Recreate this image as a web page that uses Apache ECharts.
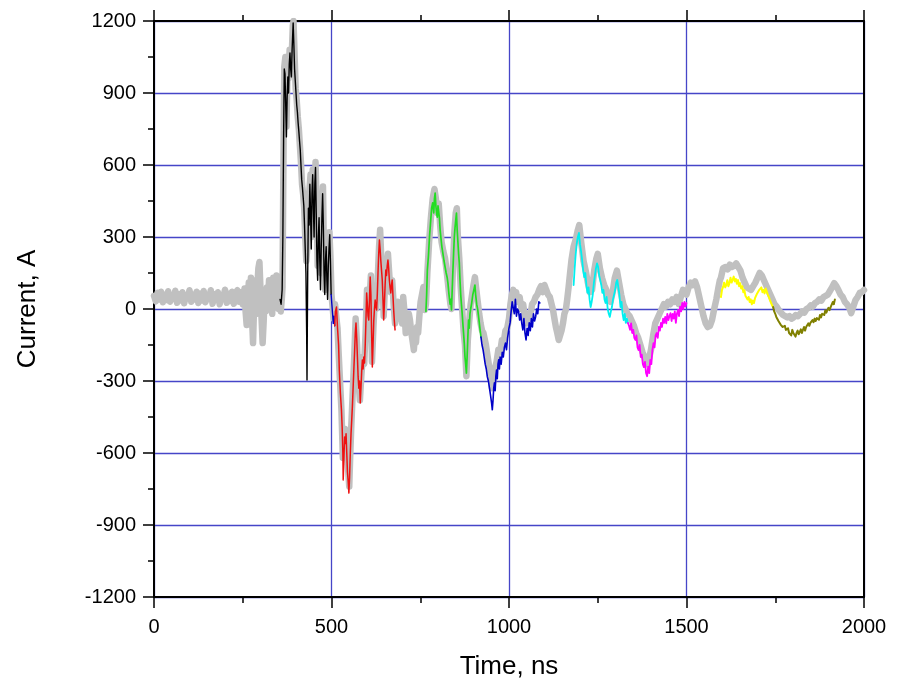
<!DOCTYPE html>
<html>
<head>
<meta charset="utf-8">
<script src="https://cdn.jsdelivr.net/npm/echarts@6/dist/echarts.min.js"></script>
<style>
html,body{margin:0;padding:0;background:#fff;}
#chart{width:900px;height:685px;}
</style>
</head>
<body>
<div id="chart"></div>
<script>
// ---- data: [time (ns), current (A)] ----
const grayTrace = [
[0,55],[5,32],[10,68],[15,40],[20,72],[25,28],[30,60],[35,38],[40,74],[45,30],[50,58],[55,42],[60,76],[65,26],[70,62],[75,36],[80,70],[85,24],[90,58],[95,44],[100,78],[105,30],[110,60],[115,40],[120,72],[125,25],[130,64],[135,36],[140,75],[145,28],[150,56],[155,44],[160,78],[165,22],[170,62],[175,38],[180,70],[185,20],[190,58],[195,46],[200,80],[205,26],[210,64],[215,34],[220,72],[225,22],[230,66],[235,78],[240,30],[245,70],[250,20],[255,85],[258,-10],[261,-67],[264,40],[267,110],[270,0],[273,130],[276,-30],[279,-142],[282,20],[285,120],[288,-20],[291,90],[294,170],[297,196],[300,80],[303,-40],[306,-142],[309,-50],[312,60],[315,-10],[318,90],[321,20],[324,120],[327,0],[330,60],[333,-20],[336,130],[339,20],[342,90],[345,140],[348,40],[351,0],[354,60],[357,-10],[360,40],
[362,90],[364,500],[367,1010],[370,1050],[373,760],[376,990],[379,960],[382,1080],[385,1010],[388,1060],[391,1180],[393,1200],[396,1060],[399,920],[402,870],[405,800],[408,750],[411,680],[414,610],[417,520],[420,480],[423,420],[426,300],[429,200],[432,260],[435,430],[438,500],[441,560],[444,300],[447,580],[450,430],[453,500],[455,612],[458,450],[461,180],[464,300],[467,400],[470,150],[473,380],[476,510],[479,200],[482,80],[485,270],[488,100],[491,200],[494,320],[497,220],[500,60],[503,10],[506,-40],
[510,20],[514,-40],[517,-80],[520,-180],[524,-300],[528,-420],[532,-620],[535,-560],[538,-500],[542,-580],[546,-650],[550,-740],[553,-600],[556,-480],[560,-340],[564,-200],[568,-40],[572,-150],[576,-300],[580,-380],[584,-280],[588,-200],[592,-230],[596,-100],[600,80],[604,-20],[608,60],[611,140],[614,-220],[618,-80],[622,40],[626,0],[630,120],[634,260],[637,330],[640,220],[644,110],[647,-30],[651,110],[655,160],[659,230],[663,140],[667,70],[671,120],[675,20],[679,-60],
[683,-20],[687,30],[691,-40],[695,10],[699,-60],[702,50],[706,-20],[709,-100],[712,-30],[715,-60],[718,-20],[721,-46],[725,-100],[729,-140],[732,-171],[735,-110],[738,-140],[741,-75],[744,-100],[748,-20],[751,30],[755,37],[759,92],[763,-4],[766,20],
[770,150],[775,280],[780,380],[785,460],[790,500],[794,460],[798,400],[802,440],[806,350],[810,280],[815,240],[820,210],[825,150],[830,80],[835,20],[838,0],[842,170],[846,320],[850,400],[853,420],[856,300],[860,210],[864,90],[868,0],[872,-90],[876,-150],[880,-280],[884,-130],[888,-50],[892,20],[896,60],[900,100],[904,133],[908,80],[912,30],[916,-20],[920,-60],[924,-90],[928,-100],
[935,-150],[942,-220],[948,-280],[952,-330],[956,-300],[960,-250],[965,-220],[970,-170],[975,-180],[980,-130],[985,-140],[990,-90],[995,-80],[1000,-40],[1004,20],[1008,60],[1012,80],[1016,40],[1020,70],[1025,30],[1030,50],[1035,0],[1040,20],[1045,-40],[1050,-60],[1055,-20],[1060,-30],[1065,20],[1070,30],[1075,50],[1080,60],[1085,80],[1090,95],[1095,70],[1100,100],[1105,79],[1110,60],[1115,50],[1120,20],[1124,-4],[1128,-40],[1132,-75],[1136,-100],[1140,-129],[1144,-110],[1148,-90],[1152,-60],[1156,-20],[1160,-4],[1164,40],[1168,92],[1172,150],[1176,204],[1182,260],[1188,290],[1194,330],[1198,350],[1204,270],[1210,200],[1216,160],[1222,110],[1228,70],[1234,80],[1240,160],[1246,210],[1250,230],[1256,170],[1262,130],[1268,100],[1274,80],[1280,40],[1286,30],[1292,70],[1298,130],[1304,160],[1310,110],[1316,60],[1322,20],[1328,0],[1334,-20],[1340,-30],
[1346,-50],[1352,-70],[1358,-100],[1364,-120],[1370,-150],[1376,-180],[1382,-200],[1388,-230],[1394,-210],[1400,-170],[1406,-110],[1412,-60],[1418,-40],[1424,-20],[1430,0],[1436,20],[1442,10],[1448,30],[1454,20],[1460,40],[1466,30],[1472,50],[1478,20],[1484,50],[1490,80],[1496,70],
[1500,60],[1506,90],[1512,110],[1518,100],[1524,115],[1530,90],[1536,50],[1542,10],[1548,-30],[1554,-60],[1560,-75],[1566,-70],[1572,-45],[1578,0],[1584,40],[1590,90],[1594,120],
[1597,130],[1603,170],[1610,175],[1616,165],[1622,185],[1628,175],[1634,180],[1640,190],[1646,175],[1652,160],[1658,130],[1664,110],[1670,90],[1676,85],[1682,80],[1688,95],[1694,110],[1700,130],[1706,150],[1712,140],[1718,120],[1724,100],[1730,80],[1736,60],[1742,40],[1748,20],[1754,10],[1760,-5],[1766,-15],[1772,-25],[1778,-30],[1784,-35],[1790,-30],[1796,-40],[1802,-35],[1808,-25],[1814,-30],[1820,-20],[1826,-10],[1832,-15],[1838,0],[1844,5],[1850,15],[1856,10],[1862,25],[1868,30],[1874,40],[1880,35],[1886,50],[1892,55],[1898,60],[1904,75],[1910,90],[1916,108],
[1922,95],[1928,79],[1934,60],[1940,50],[1946,30],[1952,20],[1958,8],[1964,-17],[1970,10],[1976,37],[1982,50],[1988,67],[1994,70],[2000,79]
];

const blackTrace = [
[355,40],[358,20],[361,80],[363,300],[365,700],[367,1000],[369,980],[371,850],[373,717],[375,880],[377,967],[379,900],[381,1020],[383,1067],[385,1000],[387,967],[389,1080],[392,1192],[394,1100],[396,1000],[398,950],[400,900],[402,850],[404,820],[406,775],[408,740],[410,700],[412,662],[414,600],[416,540],[418,508],[420,470],[422,430],[424,350],[426,250],[428,150],[430,-100],[431,-296],[432,-60],[433,150],[435,420],[437,350],[439,520],[441,400],[443,250],[445,480],[447,560],[449,420],[451,300],[453,520],[455,590],[457,400],[459,200],[461,120],[463,300],[465,380],[467,200],[469,80],[471,250],[473,380],[475,480],[477,350],[479,150],[481,60],[483,200],[485,260],[487,120],[489,40],[491,180],[493,250],[495,310],[497,200],[499,60]
];

const blueTraceEarly = [
[499,60],[501,20],[503,-20],[505,-60],[507,-30],[509,-70]
];

const redTrace = [
[509,-70],[511,-10],[514,8],[517,-80],[520,-150],[522,-254],[525,-350],[528,-420],[530,-492],[532,-600],[533,-712],[535,-620],[537,-533],[539,-560],[541,-520],[543,-600],[545,-680],[547,-720],[549,-767],[551,-700],[553,-600],[555,-520],[557,-462],[559,-400],[561,-325],[563,-250],[565,-180],[567,-100],[569,-58],[571,-120],[573,-200],[575,-283],[577,-330],[579,-300],[581,-392],[583,-330],[585,-260],[587,-212],[589,-250],[591,-200],[593,-225],[595,-150],[597,-50],[599,67],[601,20],[603,-30],[605,-46],[607,40],[609,133],[611,60],[613,-100],[615,-242],[617,-150],[619,-50],[621,0],[623,37],[625,10],[627,-4],[629,60],[631,150],[633,230],[635,287],[637,250],[639,200],[641,160],[643,121],[645,40],[647,-46],[649,20],[651,100],[653,162],[655,140],[657,180],[659,204],[661,170],[663,120],[665,90],[667,67],[669,100],[671,121],[673,60],[675,0],[677,-50],[679,-87]
];

const greenTrace = [
[766,-10],[768,60],[770,162],[773,220],[776,300],[779,360],[782,420],[785,442],[788,400],[790,460],[792,483],[794,430],[796,400],[798,383],[800,430],[802,425],[804,380],[806,330],[808,300],[811,258],[814,230],[817,200],[820,192],[823,150],[826,130],[828,108],[831,60],[834,20],[836,40],[838,-4],[840,80],[842,160],[844,233],[846,300],[848,340],[850,371],[852,400],[854,330],[856,280],[858,230],[860,192],[862,120],[864,60],[866,20],[868,-17],[870,-60],[872,-100],[874,-142],[876,-200],[878,-230],[880,-267],[882,-200],[884,-120],[886,-46],[888,-80],[890,-20],[892,0],[895,25],[898,60],[901,79],[904,100],[906,60],[909,20],[912,-4],[915,-40],[918,-80],[921,-117]
];

const blueTrace = [
[921,-117],[924,-150],[927,-170],[930,-200],[933,-230],[936,-250],[939,-283],[942,-300],[945,-330],[948,-360],[951,-392],[953,-420],[955,-380],[957,-330],[959,-308],[961,-340],[963,-280],[965,-254],[967,-290],[969,-230],[971,-212],[973,-250],[975,-200],[978,-230],[981,-180],[984,-200],[987,-160],[990,-142],[993,-170],[996,-120],[999,-90],[1000,-80],[1003,-58],[1006,-10],[1009,30],[1012,25],[1015,-20],[1018,40],[1021,-30],[1024,0],[1027,-10],[1030,-46],[1033,-20],[1036,-60],[1039,-87],[1042,-40],[1045,-100],[1048,-129],[1051,-80],[1054,-110],[1057,-58],[1060,-90],[1063,-40],[1066,-75],[1069,-20],[1072,-50],[1075,-33],[1078,0],[1081,-20],[1084,30],[1087,25]
];

const cyanTrace = [
[1182,100],[1185,170],[1188,230],[1191,275],[1194,300],[1197,317],[1200,270],[1203,240],[1206,204],[1209,160],[1212,133],[1215,150],[1218,100],[1221,67],[1224,90],[1227,40],[1230,8],[1233,30],[1236,60],[1239,108],[1242,140],[1245,170],[1248,190],[1251,175],[1254,140],[1257,133],[1260,100],[1263,67],[1266,80],[1269,40],[1272,25],[1275,50],[1278,0],[1281,-20],[1284,-33],[1287,-10],[1290,8],[1293,40],[1296,60],[1299,79],[1302,110],[1305,121],[1308,90],[1311,60],[1314,8],[1317,30],[1320,-20],[1323,-46],[1326,-20],[1329,-58],[1332,-40],[1335,-58]
];

const magentaTrace = [
[1335,-58],[1338,-70],[1341,-87],[1344,-60],[1347,-100],[1350,-87],[1353,-120],[1356,-129],[1359,-110],[1362,-160],[1365,-171],[1368,-150],[1371,-200],[1374,-190],[1377,-230],[1380,-242],[1383,-220],[1386,-267],[1389,-280],[1392,-240],[1395,-267],[1398,-212],[1401,-230],[1404,-170],[1407,-142],[1410,-160],[1413,-110],[1416,-100],[1419,-120],[1422,-75],[1425,-90],[1428,-58],[1431,-75],[1434,-40],[1437,-58],[1440,-33],[1443,-60],[1446,-20],[1449,-46],[1452,-30],[1455,-17],[1458,-50],[1461,-20],[1464,-40],[1467,-10],[1470,-58],[1473,-20],[1476,-4],[1479,-30],[1482,10],[1485,-10],[1488,25],[1491,0],[1494,30],[1497,10],[1500,25]
];

const yellowTrace = [
[1597,50],[1600,80],[1603,92],[1606,110],[1609,90],[1612,100],[1615,120],[1618,95],[1621,108],[1624,130],[1627,110],[1630,121],[1633,135],[1636,115],[1639,125],[1642,105],[1645,121],[1648,95],[1651,108],[1654,85],[1657,95],[1660,70],[1663,79],[1666,55],[1669,60],[1672,40],[1675,50],[1678,29],[1681,40],[1684,20],[1687,35],[1690,25],[1693,45],[1696,50],[1699,65],[1702,60],[1705,80],[1708,79],[1711,90],[1714,70],[1717,80],[1720,65],[1723,85],[1726,79],[1729,60],[1732,50],[1735,37],[1738,30],[1741,15],[1744,8]
];

const oliveTrace = [
[1744,8],[1747,-10],[1750,-20],[1753,-33],[1756,-40],[1759,-50],[1762,-58],[1765,-65],[1768,-60],[1771,-75],[1774,-80],[1777,-70],[1780,-87],[1783,-95],[1786,-80],[1789,-100],[1792,-96],[1795,-110],[1798,-87],[1801,-100],[1804,-92],[1807,-115],[1810,-100],[1813,-90],[1816,-105],[1819,-96],[1822,-85],[1825,-100],[1828,-87],[1831,-75],[1834,-90],[1837,-75],[1840,-80],[1843,-60],[1846,-70],[1849,-58],[1852,-65],[1855,-46],[1858,-55],[1861,-40],[1864,-50],[1867,-38],[1870,-30],[1873,-45],[1876,-25],[1879,-35],[1882,-20],[1885,-17],[1888,-25],[1891,-5],[1894,-15],[1897,-4],[1900,5],[1903,-5],[1906,8],[1909,15],[1912,29],[1915,20],[1918,40]
];

const xTicks = { min: 0, max: 2000, interval: 500 };
const yTicks = { min: -1200, max: 1200, interval: 300 };
const xTitle = 'Time, ns';
const yTitle = 'Current, A';

// ---- chart ----
const FONT = '"Liberation Sans", Arial, sans-serif';
const GRID_COLOR = '#4646c8';
const chart = echarts.init(document.getElementById('chart'), null, { renderer: 'canvas' });

function trace(data, color, width, z) {
  return {
    type: 'line', data: data, showSymbol: false, symbol: 'none',
    xAxisIndex: 0, yAxisIndex: 0, z: z, animation: false,
    lineStyle: { color: color, width: width, join: 'round', cap: 'round' },
    emphasis: { disabled: true }
  };
}
const plain = function (v) { return String(v); };

chart.setOption({
  animation: false,
  backgroundColor: '#ffffff',
  grid: { left: 154, right: 36, top: 21, bottom: 88, containLabel: false },
  xAxis: [
    {
      type: 'value', position: 'bottom', min: xTicks.min, max: xTicks.max, interval: xTicks.interval,
      name: xTitle, nameLocation: 'middle', nameGap: 57,
      nameTextStyle: { fontFamily: FONT, fontSize: 26, color: '#000' },
      axisLine: { show: true, onZero: false, lineStyle: { color: '#000', width: 2 } },
      axisTick: { show: true, inside: false, length: 11, lineStyle: { color: '#000', width: 1.5 } },
      minorTick: { show: true, splitNumber: 2, length: 6, lineStyle: { color: '#000', width: 1.5 } },
      axisLabel: { fontFamily: FONT, fontSize: 20, color: '#000', margin: 20, formatter: plain },
      splitLine: { show: true, lineStyle: { color: GRID_COLOR, width: 1.3 } }
    },
    {
      type: 'value', position: 'top', min: xTicks.min, max: xTicks.max, interval: xTicks.interval,
      axisLine: { show: true, onZero: false, lineStyle: { color: '#000', width: 2 } },
      axisTick: { show: true, inside: false, length: 11, lineStyle: { color: '#000', width: 1.5 } },
      minorTick: { show: true, splitNumber: 2, length: 6, lineStyle: { color: '#000', width: 1.5 } },
      axisLabel: { show: false },
      splitLine: { show: false }
    }
  ],
  yAxis: [
    {
      type: 'value', position: 'left', min: yTicks.min, max: yTicks.max, interval: yTicks.interval,
      name: yTitle, nameLocation: 'middle', nameGap: 113, nameRotate: 90,
      nameTextStyle: { fontFamily: FONT, fontSize: 26, color: '#000' },
      axisLine: { show: true, onZero: false, lineStyle: { color: '#000', width: 2 } },
      axisTick: { show: true, inside: false, length: 11, lineStyle: { color: '#000', width: 1.5 } },
      minorTick: { show: true, splitNumber: 2, length: 6, lineStyle: { color: '#000', width: 1.5 } },
      axisLabel: { fontFamily: FONT, fontSize: 20, color: '#000', margin: 18, formatter: plain },
      splitLine: { show: true, lineStyle: { color: GRID_COLOR, width: 1.3 } }
    },
    {
      type: 'value', position: 'right', min: yTicks.min, max: yTicks.max, interval: yTicks.interval,
      axisLine: { show: true, onZero: false, lineStyle: { color: '#000', width: 2 } },
      axisTick: { show: false },
      axisLabel: { show: false },
      splitLine: { show: false }
    }
  ],
  series: [
    trace(grayTrace, '#c0c0c0', 6.5, 2),
    trace(blackTrace, '#000000', 1.4, 3),
    trace(blueTraceEarly, '#0000c8', 1.4, 3),
    trace(redTrace, '#ee1111', 1.5, 3),
    trace(greenTrace, '#22dd22', 1.7, 3),
    trace(blueTrace, '#0000c8', 1.6, 3),
    trace(cyanTrace, '#00f0f0', 1.8, 3),
    trace(magentaTrace, '#ff00ff', 1.8, 3),
    trace(yellowTrace, '#ffff00', 2, 3),
    trace(oliveTrace, '#808000', 2, 3)
  ]
});
</script>
</body>
</html>
